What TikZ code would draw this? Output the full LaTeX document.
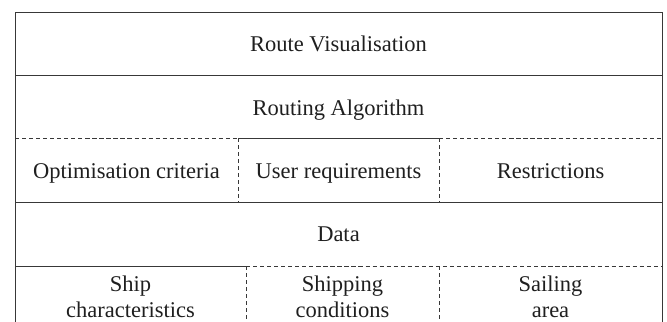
\documentclass[tikz,border=0pt]{standalone}
\usepackage{fontspec}
\setmainfont{Liberation Serif}
\usepackage{xcolor}
\usetikzlibrary{positioning,calc}

\begin{document}
\begin{tikzpicture}[
  x=0.025cm, y=-0.025cm,
  font=\fontsize{16}{17.8}\selectfont,
  cell/.style={
    inner sep=0pt, align=center, anchor=base, text=black!88
  },
  rule/.style={line width=0.6pt, color=black!78},
  softrule/.style={line width=0.6pt, color=black!78, dash pattern=on 3pt off 2pt}
]
\useasboundingbox (0,0) rectangle (667,322);

% Corners and junctions of the table
\coordinate (tl) at (15,12);   \coordinate (tr) at (662,12);
\coordinate (bl) at (15,322);  \coordinate (br) at (662,322);
\coordinate (l1) at (15,75);   \coordinate (r1) at (662,75);
\coordinate (l2) at (15,138);  \coordinate (r2) at (662,138);
\coordinate (l3) at (15,202);  \coordinate (r3) at (662,202);
\coordinate (l4) at (15,266);  \coordinate (r4) at (662,266);
\coordinate (ua) at (238,138); \coordinate (ub) at (439,138);
\coordinate (ua') at (238,202); \coordinate (ub') at (439,202);
\coordinate (da) at (246,266); \coordinate (db) at (439,266);
\coordinate (da') at (246,322); \coordinate (db') at (439,322);

% Layer labels (placed by baseline of the last line)
\node[cell] (vis) at (338.5,51) {Route Visualisation};
\node[cell] (alg) at (338.5,115) {Routing Algorithm};
\node[cell] (opt) at (126.5,178) {Optimisation criteria};
\node[cell] (usr) at (338.5,178) {User requirements};
\node[cell] (res) at (550.5,178) {Restrictions};
\node[cell] (dat) at (338.5,241) {Data};
\node[cell] (shp) at (130.5,317) {Ship\\characteristics};
\node[cell] (cnd) at (342.5,317) {Shipping\\conditions};
\node[cell] (sea) at (550.5,317) {Sailing\\area};

% Outer frame and solid separators
\draw[rule] (bl) -- (tl) -- (tr) -- (br);
\draw[rule] (l1) -- (r1);
\draw[rule] (l3) -- (r3);
\draw[rule] (ua) -- (ub);
\draw[rule] (l4) -- (da);

% Dashed separators inside the algorithm and data layers
\draw[softrule] (l2) -- (ua);
\draw[softrule] (ub) -- (r2);
\draw[softrule] (da) -- (r4);
\foreach \a/\b in {ua/ua', ub/ub', da/da', db/db'} {
  \draw[softrule] (\a) -- (\b);
}

\end{tikzpicture}
\end{document}
